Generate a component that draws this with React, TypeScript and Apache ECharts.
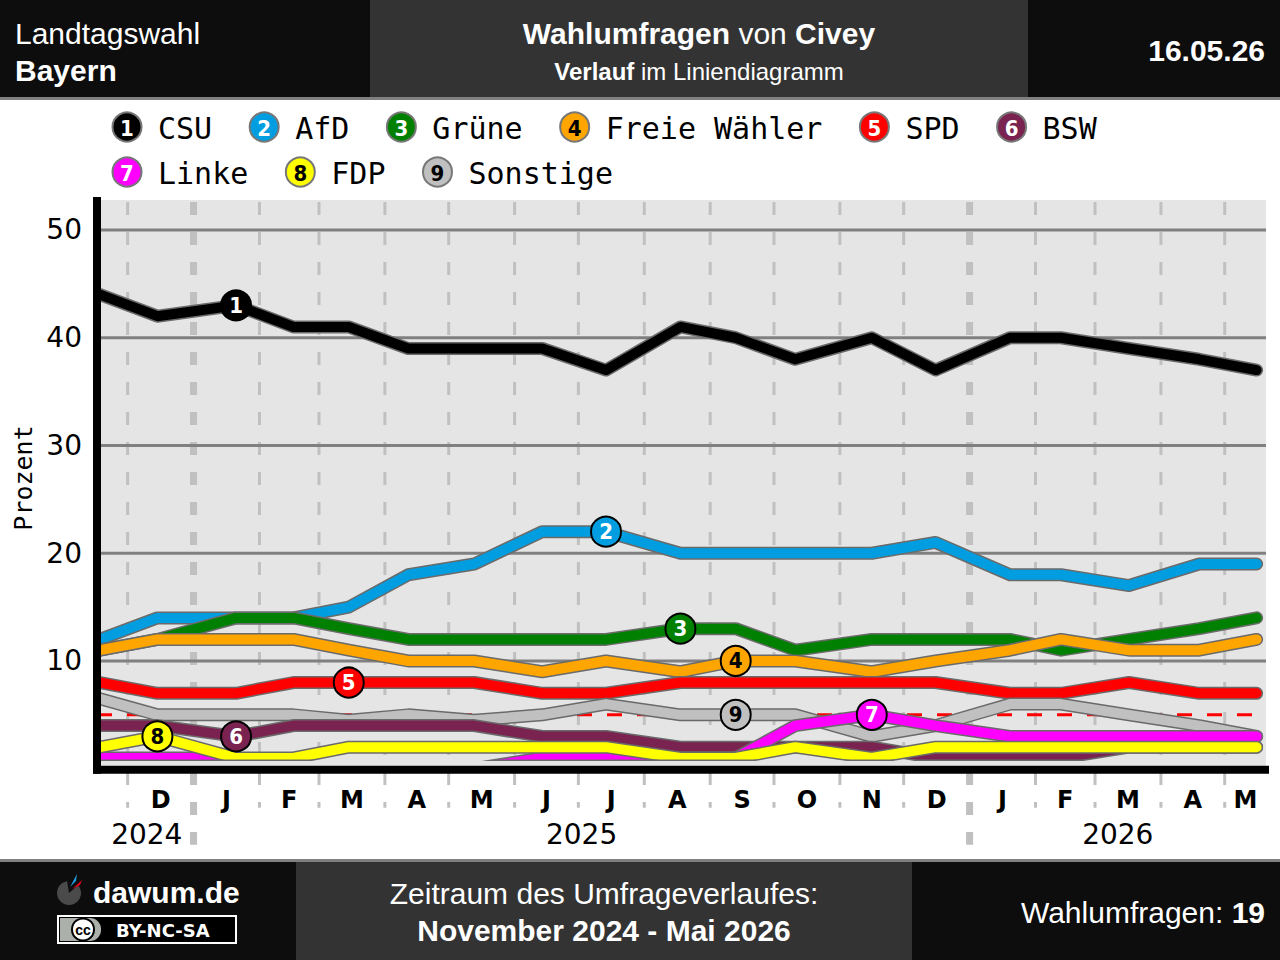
import React, { useEffect, useRef } from 'react';
import * as echarts from 'echarts';

// ---------- data ----------
const pollDates = [
  '2024-11-18', '2024-12-15', '2025-01-21', '2025-02-17', '2025-03-15', '2025-04-12',
  '2025-05-13', '2025-06-14', '2025-07-14', '2025-08-18', '2025-09-13', '2025-10-11',
  '2025-11-16', '2025-12-16', '2026-01-20', '2026-02-13', '2026-03-17', '2026-04-19', '2026-05-16',
];
const partyNames = ['CSU', 'AfD', 'Grüne', 'Freie Wähler', 'SPD', 'BSW', 'Linke', 'FDP', 'Sonstige'];
const partyColors = ['#000000', '#009ee0', '#008000', '#ffa500', '#ff0000', '#7a2350', '#ff00ff', '#ffff00', '#c0c0c0'];
const numberColors = ['#ffffff', '#ffffff', '#ffffff', '#000000', '#ffffff', '#ffffff', '#ffffff', '#000000', '#000000'];

const csu = [44, 42, 43, 41, 41, 39, 39, 39, 37, 41, 40, 38, 40, 37, 40, 40, 39, 38, 37];
const afd = [12, 14, 14, 14, 15, 18, 19, 22, 22, 20, 20, 20, 20, 21, 18, 18, 17, 19, 19];
const gruene = [11, 12, 14, 14, 13, 12, 12, 12, 12, 13, 13, 11, 12, 12, 12, 11, 12, 13, 14];
const freieWaehler = [11, 12, 12, 12, 11, 10, 10, 9, 10, 9, 10, 10, 9, 10, 11, 12, 11, 11, 12];
const spd = [8, 7, 7, 8, 8, 8, 8, 7, 7, 8, 8, 8, 8, 8, 7, 7, 8, 7, 7];
const bsw = [4, 4, 3, 4, 4, 4, 4, 3, 3, 2, 2, 2, 2, 1, 1, 1, 2, 2, 2];
const linke = [1, 1, 1, 0, 0, 0, 0, 1, 1, 1, 1, 4, 5, 4, 3, 3, 3, 3, 3];
const fdp = [2, 3, 1, 1, 2, 2, 2, 2, 2, 1, 1, 2, 1, 2, 2, 2, 2, 2, 2];
const sonstige = [6.5, 5, 5, 5, 4.5, 5, 4.5, 5, 6, 5, 5, 5, 3, 4, 6, 6, 5, 4, 3];

const seriesValues = [csu, afd, gruene, freieWaehler, spd, bsw, linke, fdp, sonstige];
// index of the poll where the numbered badge sits on each line
const badgeIndex = [2, 8, 9, 10, 4, 2, 12, 1, 10];
// drawing order (bottom -> top)
const drawOrder = [0, 1, 2, 3, 4, 8, 5, 6, 7];

const yGridValues = [10, 20, 30, 40, 50];
const thresholdValue = [5];

const monthStarts = [
  '2024-12-01', '2025-01-01', '2025-02-01', '2025-03-01', '2025-04-01', '2025-05-01',
  '2025-06-01', '2025-07-01', '2025-08-01', '2025-09-01', '2025-10-01', '2025-11-01',
  '2025-12-01', '2026-01-01', '2026-02-01', '2026-03-01', '2026-04-01', '2026-05-01', '2026-06-01',
];
const monthLetters = ['D', 'J', 'F', 'M', 'A', 'M', 'J', 'J', 'A', 'S', 'O', 'N', 'D', 'J', 'F', 'M', 'A', 'M'];
const yearLabels = ['2024', '2025', '2026'];
const yearStarts = ['2024-01-01', '2025-01-01', '2026-01-01', '2027-01-01'];

const axisStart = '2024-11-18';
const axisEnd = '2026-05-20';
// value range of the plot area (the bottom edge sits a little above 0 so that
// lines at 0 disappear behind the axis, as in the original)
const yMin = 1.32;
const yMax = 52.784;

// ---------- helpers ----------
const ts = (s: string) => Date.parse(s + 'T00:00:00Z');
const pollTs = pollDates.map(ts);
const xMin = ts(axisStart);
const xMax = ts(axisEnd) + 10 * 3600 * 1000;

const SANS = 'Liberation Sans, Arial, sans-serif';
const MONO = 'DejaVu Sans Mono, monospace';
const DJV = 'DejaVu Sans, sans-serif';
const COND = 'DejaVu Sans Condensed, DejaVu Sans, sans-serif';

function buildOption() {
  const series: any[] = [];

  // background strip between plot edge and axis
  series.push({
    type: 'custom',
    silent: true,
    clip: false,
    data: [[xMin, 0]],
    renderItem: (params: any, api: any) => {
      const cs = params.coordSys;
      const y0 = api.coord([xMin, 0])[1];
      const yb = cs.y + cs.height;
      return {
        type: 'rect',
        shape: { x: cs.x, y: yb - 0.5, width: cs.width, height: y0 - 3 - yb + 0.5 },
        style: { fill: '#e5e5e5' },
      };
    },
  });

  // vertical month grid (dashed, extends below the plot)
  series.push({
    type: 'custom',
    silent: true,
    clip: false,
    data: monthStarts.slice(0, monthStarts.length - 1).map((d) => [ts(d), 0, d.endsWith('-01-01') ? 1 : 0]),
    renderItem: (params: any, api: any) => {
      const cs = params.coordSys;
      const x = api.coord([api.value(0), 0])[0];
      const y0 = api.coord([xMin, 0])[1];
      const isYear = api.value(2) === 1;
      return {
        type: 'line',
        shape: { x1: x, y1: cs.y + 2, x2: x, y2: y0 + (isYear ? 76 : 39) },
        style: { stroke: '#c0c0c0', lineWidth: isYear ? 7 : 3, lineDash: [13, 17] },
      };
    },
  });

  // horizontal grid lines
  series.push({
    type: 'custom',
    silent: true,
    clip: false,
    data: yGridValues.map((v) => [xMin, v]),
    renderItem: (params: any, api: any) => {
      const cs = params.coordSys;
      const y = api.coord([api.value(0), api.value(1)])[1];
      return {
        type: 'line',
        shape: { x1: cs.x, y1: y, x2: cs.x + cs.width, y2: y },
        style: { stroke: '#808080', lineWidth: 3 },
      };
    },
  });

  // y labels
  series.push({
    type: 'custom',
    silent: true,
    clip: false,
    data: yGridValues.map((v) => [xMin, v]),
    renderItem: (params: any, api: any) => {
      const cs = params.coordSys;
      const y = api.coord([api.value(0), api.value(1)])[1];
      return {
        type: 'text',
        x: cs.x - 18,
        y: y,
        style: {
          text: String(api.value(1)),
          fill: '#000',
          fontFamily: DJV,
          fontSize: 28,
          align: 'right',
          verticalAlign: 'middle',
        },
      };
    },
  });

  // 5% threshold
  series.push({
    type: 'custom',
    silent: true,
    clip: false,
    data: thresholdValue.map((v) => [xMin, v]),
    renderItem: (params: any, api: any) => {
      const cs = params.coordSys;
      const y = api.coord([api.value(0), api.value(1)])[1];
      return {
        type: 'line',
        shape: { x1: cs.x, y1: y, x2: cs.x + cs.width, y2: y },
        style: { stroke: '#ff0000', lineWidth: 3, lineDash: [15, 15], lineDashOffset: 3 },
      };
    },
  });

  // month letters
  series.push({
    type: 'custom',
    silent: true,
    clip: false,
    data: monthLetters.map((_, i) => [ts(monthStarts[i]), 0, ts(monthStarts[i + 1]), i]),
    renderItem: (params: any, api: any) => {
      const a = Math.max(api.value(0), xMin);
      const b = Math.min(api.value(2), xMax);
      const x1 = api.coord([a, 0])[0];
      const x2 = api.coord([b, 0])[0];
      const y0 = api.coord([xMin, 0])[1];
      return {
        type: 'text',
        x: (x1 + x2) / 2,
        y: y0 + 31,
        style: {
          text: monthLetters[api.value(3)],
          fill: '#000',
          fontFamily: DJV,
          fontWeight: 'bold',
          fontSize: 24,
          align: 'center',
          verticalAlign: 'middle',
        },
      };
    },
  });

  // year labels
  series.push({
    type: 'custom',
    silent: true,
    clip: false,
    data: yearLabels.map((_, i) => [ts(yearStarts[i]), 0, ts(yearStarts[i + 1]), i]),
    renderItem: (params: any, api: any) => {
      const a = Math.max(api.value(0), xMin);
      const b = Math.min(api.value(2), xMax);
      const x1 = api.coord([a, 0])[0];
      const x2 = api.coord([b, 0])[0];
      const y0 = api.coord([xMin, 0])[1];
      return {
        type: 'text',
        x: (x1 + x2) / 2,
        y: y0 + 66,
        style: {
          text: yearLabels[api.value(3)],
          fill: '#000',
          fontFamily: DJV,
          fontSize: 28,
          align: 'center',
          verticalAlign: 'middle',
        },
      };
    },
  });

  // party lines: outline + colour
  drawOrder.forEach((p) => {
    const vals = seriesValues[p];
    const data = pollTs.map((t, i) => [t, vals[i]]);
    series.push({
      type: 'line',
      name: partyNames[p] + '-outline',
      data,
      symbol: 'none',
      silent: true,
      lineStyle: { color: '#6a6a6a', width: 13, cap: 'round', join: 'round' },
    });
    const bi = badgeIndex[p];
    series.push({
      type: 'line',
      name: partyNames[p],
      data,
      symbol: 'none',
      silent: true,
      lineStyle: { color: partyColors[p], width: 10, cap: 'round', join: 'round' },
      markPoint: {
        silent: true,
        symbol: 'circle',
        symbolSize: 30,
        data: [{ coord: [pollTs[bi], vals[bi]], value: p + 1 }],
        itemStyle: { color: partyColors[p], borderColor: '#000', borderWidth: 2 },
        label: {
          show: true,
          formatter: String(p + 1),
          color: numberColors[p],
          fontFamily: COND,
          fontWeight: 'bold',
          fontSize: 22,
        },
      },
    });
  });

  // axis lines (on top of the data lines)
  series.push({
    type: 'custom',
    silent: true,
    clip: false,
    z: 10,
    data: [[xMin, 0]],
    renderItem: (params: any, api: any) => {
      const cs = params.coordSys;
      const y0 = api.coord([xMin, 0])[1];
      return {
        type: 'group',
        children: [
          { type: 'rect', shape: { x: cs.x - 7, y: cs.y - 3, width: 8, height: y0 + 5 - (cs.y - 3) }, style: { fill: '#000' } },
          { type: 'rect', shape: { x: cs.x - 7, y: y0 - 3, width: cs.width + 10, height: 8 }, style: { fill: '#000' } },
        ],
      };
    },
  });

  // ---------- graphic: header, legend, footer ----------
  const g: any[] = [];
  g.push({ type: 'rect', shape: { x: 0, y: 0, width: 370, height: 97 }, style: { fill: '#0d0d0d' } });
  g.push({ type: 'rect', shape: { x: 370, y: 0, width: 658, height: 97 }, style: { fill: '#333333' } });
  g.push({ type: 'rect', shape: { x: 1028, y: 0, width: 252, height: 97 }, style: { fill: '#0d0d0d' } });
  g.push({ type: 'rect', shape: { x: 0, y: 97, width: 1280, height: 3 }, style: { fill: '#808080' } });
  g.push({ type: 'text', x: 15, y: 33, style: { text: 'Landtagswahl', fill: '#fff', font: '30px ' + SANS, verticalAlign: 'middle' } });
  g.push({ type: 'text', x: 15, y: 70, style: { text: 'Bayern', fill: '#fff', font: 'bold 30px ' + SANS, verticalAlign: 'middle' } });
  g.push({
    type: 'text', x: 699, y: 33,
    style: {
      text: '{b|Wahlumfragen}{n| von }{b|Civey}', fill: '#fff', align: 'center', verticalAlign: 'middle',
      rich: {
        b: { fontFamily: SANS, fontSize: 30, fontWeight: 'bold', fill: '#fff', color: '#fff' },
        n: { fontFamily: SANS, fontSize: 30, fill: '#fff', color: '#fff' },
      },
    },
  });
  g.push({
    type: 'text', x: 699, y: 71,
    style: {
      text: '{b|Verlauf}{n| im Liniendiagramm}', fill: '#fff', align: 'center', verticalAlign: 'middle',
      rich: {
        b: { fontFamily: SANS, fontSize: 24, fontWeight: 'bold', fill: '#fff', color: '#fff' },
        n: { fontFamily: SANS, fontSize: 24, fill: '#fff', color: '#fff' },
      },
    },
  });
  g.push({ type: 'text', x: 1265, y: 50, style: { text: '16.05.26', fill: '#fff', font: 'bold 30px ' + SANS, align: 'right', verticalAlign: 'middle' } });

  // legend
  const charW = 30 * 0.602;
  let lx = 127;
  partyNames.forEach((name, p) => {
    if (p === 6) lx = 127;
    const ly = p < 6 ? 127 : 172;
    g.push({ type: 'circle', shape: { cx: lx, cy: ly, r: 14.5 }, style: { fill: partyColors[p], stroke: '#777777', lineWidth: 2 } });
    g.push({
      type: 'text', x: lx, y: ly + 1,
      style: { text: String(p + 1), fill: numberColors[p], font: 'bold 22px ' + COND, align: 'center', verticalAlign: 'middle' },
    });
    g.push({ type: 'text', x: lx + 31, y: ly + 1, style: { text: name, fill: '#000', font: '30px ' + MONO, verticalAlign: 'middle' } });
    lx = lx + 31 + name.length * charW + 52;
  });

  // y axis title
  g.push({
    type: 'text', x: 23, y: 478, rotation: Math.PI / 2,
    style: { text: 'Prozent', fill: '#000', font: '25px ' + MONO, align: 'center', verticalAlign: 'middle' },
  });

  // footer
  g.push({ type: 'rect', shape: { x: 0, y: 859, width: 1280, height: 3 }, style: { fill: '#808080' } });
  g.push({ type: 'rect', shape: { x: 0, y: 862, width: 296, height: 98 }, style: { fill: '#0d0d0d' } });
  g.push({ type: 'rect', shape: { x: 296, y: 862, width: 616, height: 98 }, style: { fill: '#333333' } });
  g.push({ type: 'rect', shape: { x: 912, y: 862, width: 368, height: 98 }, style: { fill: '#0d0d0d' } });
  // logo
  g.push({
    type: 'sector',
    shape: { cx: 69, cy: 893, r: 12, r0: 0, startAngle: -Math.PI * 0.22, endAngle: Math.PI * 1.45, clockwise: true },
    style: { fill: '#4a4a4a' },
  });
  g.push({ type: 'polygon', shape: { points: [[72, 889], [82, 880], [80, 885]] }, style: { fill: '#e3001b' } });
  g.push({ type: 'polygon', shape: { points: [[70, 887], [77, 874], [76, 881]] }, style: { fill: '#1e9ce0' } });
  g.push({ type: 'text', x: 93, y: 892, style: { text: 'dawum.de', fill: '#fff', font: 'bold 30px ' + SANS, verticalAlign: 'middle' } });
  // cc badge
  g.push({ type: 'rect', shape: { x: 58, y: 916, width: 178, height: 27 }, style: { fill: '#000', stroke: '#fff', lineWidth: 2 } });
  g.push({ type: 'rect', shape: { x: 60, y: 918, width: 41, height: 23, r: [0, 11, 11, 0] }, style: { fill: '#abb1aa' } });
  g.push({ type: 'circle', shape: { cx: 83, cy: 929.5, r: 11 }, style: { fill: '#fff', stroke: '#000', lineWidth: 2 } });
  g.push({ type: 'text', x: 83, y: 930, style: { text: 'cc', fill: '#000', font: 'bold 14px ' + SANS, align: 'center', verticalAlign: 'middle' } });
  g.push({ type: 'text', x: 116, y: 930, style: { text: 'BY-NC-SA', fill: '#fff', font: 'bold 18px ' + DJV, verticalAlign: 'middle' } });

  g.push({ type: 'text', x: 604, y: 893, style: { text: 'Zeitraum des Umfrageverlaufes:', fill: '#fff', font: '30px ' + SANS, align: 'center', verticalAlign: 'middle' } });
  g.push({ type: 'text', x: 604, y: 930, style: { text: 'November 2024 - Mai 2026', fill: '#fff', font: 'bold 30px ' + SANS, align: 'center', verticalAlign: 'middle' } });
  g.push({
    type: 'text', x: 1265, y: 912,
    style: {
      text: '{n|Wahlumfragen: }{b|19}', fill: '#fff', align: 'right', verticalAlign: 'middle',
      rich: {
        b: { fontFamily: SANS, fontSize: 30, fontWeight: 'bold', fill: '#fff', color: '#fff' },
        n: { fontFamily: SANS, fontSize: 30, fill: '#fff', color: '#fff' },
      },
    },
  });

  return {
    animation: false,
    backgroundColor: '#ffffff',
    textStyle: { fontFamily: DJV },
    grid: {
      left: 100, right: 14, top: 200, bottom: 960 - 754.5,
      show: true, backgroundColor: '#e5e5e5', borderWidth: 0,
    },
    xAxis: {
      type: 'time',
      min: xMin,
      max: xMax,
      show: false,
    },
    yAxis: {
      type: 'value',
      min: yMin,
      max: yMax,
      show: false,
    },
    graphic: g,
    series,
  };
}

export default function App() {
  const ref = useRef<HTMLDivElement>(null);
  useEffect(() => {
    document.body.style.margin = '0';
    if (!ref.current) return;
    const chart = echarts.init(ref.current, undefined, { renderer: 'svg' });
    chart.setOption(buildOption() as any);
    return () => chart.dispose();
  }, []);
  return <div ref={ref} style={{ position: 'absolute', left: 0, top: 0, width: 1280, height: 960 }} />;
}
